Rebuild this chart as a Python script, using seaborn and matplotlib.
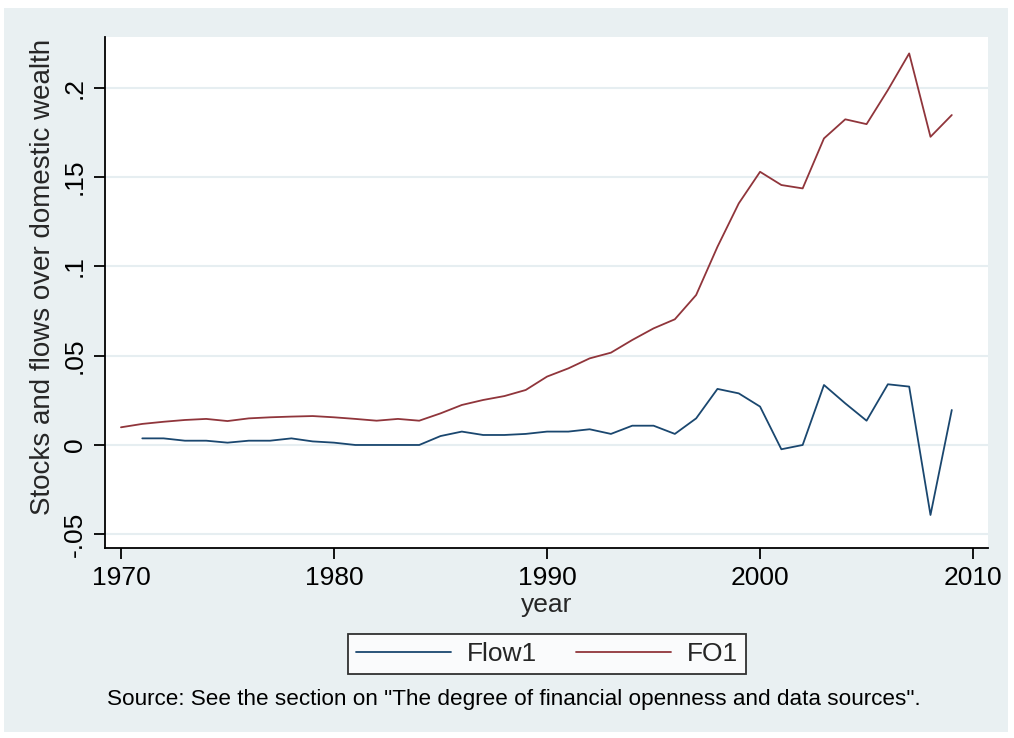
import numpy as np
import pandas as pd
import matplotlib
matplotlib.use("Agg")
import matplotlib.pyplot as plt
import seaborn as sns
from matplotlib.patches import Rectangle

# ---- data ----
years_fo1 = list(range(1970, 2010))
fo1 = [0.0099, 0.0118, 0.0130, 0.0140, 0.0146, 0.0134, 0.0149, 0.0155, 0.0159, 0.0162,
       0.0155, 0.0146, 0.0136, 0.0146, 0.0136, 0.0177, 0.0224, 0.0252, 0.0274, 0.0308,
       0.0383, 0.0429, 0.0485, 0.0517, 0.0588, 0.0653, 0.0704, 0.0840, 0.1110, 0.1353,
       0.1530, 0.1456, 0.1437, 0.1717, 0.1824, 0.1797, 0.1988, 0.2193, 0.1726, 0.1848]

years_flow1 = list(range(1971, 2010))
flow1 = [0.0037, 0.0037, 0.0024, 0.0024, 0.0013, 0.0024, 0.0024, 0.0037, 0.0020,
         0.0013, 0.0000, 0.0000, 0.0000, 0.0000, 0.0050, 0.0075, 0.0056, 0.0056, 0.0062,
         0.0075, 0.0075, 0.0088, 0.0062, 0.0108, 0.0108, 0.0062, 0.0149, 0.0314, 0.0289,
         0.0215, -0.0024, 0.0000, 0.0336, 0.0233, 0.0136, 0.0340, 0.0327, -0.0392, 0.0196]

series_names = ["Flow1", "FO1"]
xticks = [1970, 1980, 1990, 2000, 2010]
yticks = [-0.05, 0, 0.05, 0.1, 0.15, 0.2]
ytick_labels = ["-.05", "0", ".05", ".1", ".15", ".2"]

df = pd.concat([
    pd.DataFrame({"year": years_flow1, "value": flow1, "series": "Flow1"}),
    pd.DataFrame({"year": years_fo1, "value": fo1, "series": "FO1"}),
], ignore_index=True)

# ---- style ----
sns.set_theme(style="white")
plt.rcParams["font.family"] = ["Liberation Sans", "DejaVu Sans"]

BG = "#E9F0F2"
GRID = "#E6EEF1"
NAVY = "#1A476F"
MAROON = "#90353B"

fig = plt.figure(figsize=(10.14, 7.38), dpi=100)
fig.patch.set_facecolor("white")
fig.add_artist(Rectangle((4 / 1014, 6 / 738), (1008 - 4) / 1014, (730 - 6) / 738,
                         transform=fig.transFigure, facecolor=BG, edgecolor="none", zorder=-10))

ax = fig.add_axes([105 / 1014, 1 - 548 / 738, (988 - 105) / 1014, (548 - 37) / 738])
ax.set_facecolor("white")

sns.lineplot(data=df, x="year", y="value", hue="series", hue_order=series_names,
             palette=[NAVY, MAROON], linewidth=1.3, ax=ax, legend=False, estimator=None)

ax.set_xlim(1969.25, 2010.7)
ax.set_ylim(-0.0577, 0.2285)
ax.set_xticks(xticks)
ax.set_xticklabels([str(t) for t in xticks], fontsize=19)
ax.set_yticks(yticks)
ax.set_yticklabels(ytick_labels, fontsize=19, rotation=90, va="center")
ax.yaxis.grid(True, color=GRID, linewidth=1.5)
ax.xaxis.grid(False)
ax.set_axisbelow(True)

for s in ["top", "right"]:
    ax.spines[s].set_visible(False)
for s in ["left", "bottom"]:
    ax.spines[s].set_color("black")
    ax.spines[s].set_linewidth(1.3)
ax.tick_params(axis="both", which="major", direction="out", length=8, width=1.3,
               color="black", labelcolor="black", bottom=True, left=True, pad=5)

ax.set_xlabel("year", fontsize=19, labelpad=2)
ax.set_ylabel("Stocks and flows over domestic wealth", fontsize=20, labelpad=5)
ax.yaxis.label.set_y(0.53)

handles = [plt.Line2D([], [], color=NAVY, linewidth=1.3),
           plt.Line2D([], [], color=MAROON, linewidth=1.3)]
leg = fig.legend(handles, series_names, loc="center", bbox_to_anchor=(547 / 1014, 1 - 654 / 738),
                 ncol=2, fontsize=19, frameon=True, fancybox=False, edgecolor="black",
                 handlelength=3.6, columnspacing=1.5, borderpad=0.3, handletextpad=0.6)
leg.get_frame().set_linewidth(1.3)
leg.get_frame().set_facecolor("white")

fig.text(514 / 1014, 1 - 700 / 738,
         'Source: See the section on "The degree of financial openness and data sources".',
         ha="center", va="center", fontsize=16.2, color="black")

fig.savefig("out.png", dpi=100, facecolor=fig.get_facecolor())
